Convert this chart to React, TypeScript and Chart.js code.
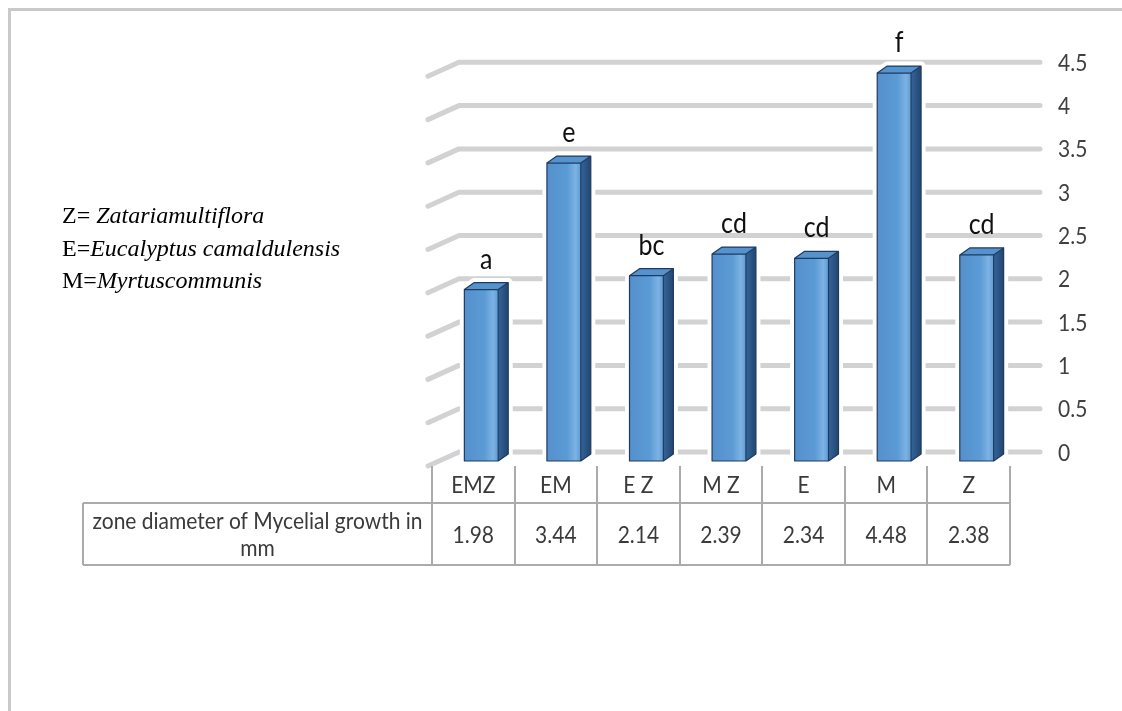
import React, { useEffect, useRef } from "react";
import { Chart, registerables } from "chart.js";

Chart.register(...registerables);

const categories = ["EMZ", "EM", "E Z", "M Z", "E", "M", "Z"];
const growthValues = [1.98, 3.44, 2.14, 2.39, 2.34, 4.48, 2.38];
const significanceLetters = ["a", "e", "bc", "cd", "cd", "f", "cd"];
const yTickValues = [0, 0.5, 1, 1.5, 2, 2.5, 3, 3.5, 4, 4.5];
const yTickLabels = ["0", "0.5", "1", "1.5", "2", "2.5", "3", "3.5", "4", "4.5"];
const valueLabels = ["1.98", "3.44", "2.14", "2.39", "2.34", "4.48", "2.38"];
const rowLabelLines = ["zone diameter of Mycelial growth in", "mm"];
const legendPrefixes = ["Z= ", "E=", "M="];
const legendNames = ["Zatariamultiflora", "Eucalyptus camaldulensis", "Myrtuscommunis"];

const W = 1122;
const H = 711;
const PLOT_LEFT = 432;
const PLOT_RIGHT = 1010;
const PLOT_TOP = 71.3;
const PLOT_BOTTOM = 461;

const SANS = "Lato, 'Open Sans', 'Liberation Sans', sans-serif";
const SERIF = "'Liberation Serif', 'DejaVu Serif', serif";

// draw text slightly stretched vertically (source chart uses tall, narrow glyphs)
function tallText(ctx: CanvasRenderingContext2D, text: string, x: number, y: number, sy: number) {
  ctx.save();
  ctx.translate(x, y);
  ctx.scale(1, sy);
  ctx.fillText(text, 0, 0);
  ctx.restore();
}

const depthPlugin = {
  id: "depth3d",
  afterDraw(chart: any) {
    const ctx: CanvasRenderingContext2D = chart.ctx;
    const xs = chart.scales.x;
    const ys = chart.scales.y;
    const area = chart.chartArea;
    const colW = (area.right - area.left) / categories.length;
    const DX = 10;
    const DY = -7;
    const SHIFT = 8;
    const WALL_DY = -9;
    const SY = 1.12;

    ctx.save();
    // outer frame (top + left)
    ctx.strokeStyle = "#c9c9c9";
    ctx.lineWidth = 3;
    ctx.beginPath();
    ctx.moveTo(9.5, H);
    ctx.lineTo(9.5, 9.5);
    ctx.lineTo(W, 9.5);
    ctx.stroke();

    // legend
    ctx.fillStyle = "#000";
    ctx.textBaseline = "middle";
    ctx.textAlign = "left";
    const legendY = [217, 250, 282];
    legendPrefixes.forEach((p, i) => {
      ctx.font = `24px ${SERIF}`;
      ctx.fillText(p, 62, legendY[i]);
      const w = ctx.measureText(p).width;
      ctx.font = `italic 24px ${SERIF}`;
      ctx.fillText(legendNames[i], 62 + w, legendY[i]);
    });

    // back-wall gridlines
    ctx.strokeStyle = "#d2d2d2";
    ctx.lineWidth = 5;
    ctx.lineCap = "round";
    ctx.lineJoin = "round";
    yTickValues.forEach((v) => {
      const yb = ys.getPixelForValue(v) + WALL_DY;
      ctx.beginPath();
      ctx.moveTo(area.left - 4, yb + 14);
      ctx.lineTo(area.left + 27, yb);
      ctx.lineTo(area.right + 30, yb);
      ctx.stroke();
    });

    // tick labels
    ctx.fillStyle = "#404040";
    ctx.font = `21px ${SANS}`;
    ctx.textAlign = "left";
    ctx.textBaseline = "middle";
    yTickValues.forEach((v, i) => {
      const yb = ys.getPixelForValue(v) + WALL_DY;
      tallText(ctx, yTickLabels[i], area.right + 48, yb + 1, SY);
    });

    // bars
    const meta = chart.getDatasetMeta(0);
    meta.data.forEach((el: any, i: number) => {
      const p = el.getProps(["x", "y", "base", "width"], true);
      const l = p.x - p.width / 2 + SHIFT;
      const r = p.x + p.width / 2 + SHIFT;
      const t = p.y;
      const b = p.base;
      // halo
      ctx.beginPath();
      ctx.moveTo(l, b);
      ctx.lineTo(l, t);
      ctx.lineTo(l + DX, t + DY);
      ctx.lineTo(r + DX, t + DY);
      ctx.lineTo(r + DX, b + DY);
      ctx.lineTo(r, b);
      ctx.closePath();
      ctx.fillStyle = "#fff";
      ctx.strokeStyle = "#fff";
      ctx.lineWidth = 9;
      ctx.fill();
      ctx.stroke();

      // front
      const g = ctx.createLinearGradient(l, 0, r, 0);
      g.addColorStop(0, "#5590cc");
      g.addColorStop(0.6, "#5b9bd5");
      g.addColorStop(0.85, "#7db2e3");
      g.addColorStop(1, "#5b9bd5");
      ctx.fillStyle = g;
      ctx.fillRect(l, t, r - l, b - t);
      // side
      const gs = ctx.createLinearGradient(r, 0, r + DX, 0);
      gs.addColorStop(0, "#35659a");
      gs.addColorStop(1, "#22466f");
      ctx.fillStyle = gs;
      ctx.beginPath();
      ctx.moveTo(r, t);
      ctx.lineTo(r + DX, t + DY);
      ctx.lineTo(r + DX, b + DY);
      ctx.lineTo(r, b);
      ctx.closePath();
      ctx.fill();
      // top
      ctx.fillStyle = "#5593cf";
      ctx.beginPath();
      ctx.moveTo(l, t);
      ctx.lineTo(l + DX, t + DY);
      ctx.lineTo(r + DX, t + DY);
      ctx.lineTo(r, t);
      ctx.closePath();
      ctx.fill();
      // outlines
      ctx.strokeStyle = "#1f3a5f";
      ctx.lineWidth = 1.2;
      ctx.beginPath();
      ctx.moveTo(l, b);
      ctx.lineTo(l, t);
      ctx.lineTo(l + DX, t + DY);
      ctx.lineTo(r + DX, t + DY);
      ctx.lineTo(r + DX, b + DY);
      ctx.lineTo(r, b);
      ctx.closePath();
      ctx.moveTo(l, t);
      ctx.lineTo(r, t);
      ctx.lineTo(r + DX, t + DY);
      ctx.moveTo(r, t);
      ctx.lineTo(r, b);
      ctx.stroke();

      // letter
      ctx.fillStyle = "#111";
      ctx.font = `25px ${SANS}`;
      ctx.textAlign = "center";
      ctx.textBaseline = "middle";
      tallText(ctx, significanceLetters[i], (l + r) / 2 + 5, t - 30, SY);
    });

    // data table
    const hdrTop = area.bottom + 5;
    const rowTop = area.bottom + 42;
    const rowBottom = area.bottom + 104;
    const tableLeft = 83;
    ctx.strokeStyle = "#ababab";
    ctx.lineWidth = 2;
    ctx.lineCap = "butt";
    ctx.beginPath();
    for (let i = 0; i <= categories.length; i++) {
      const bx = Math.round(area.left + i * colW);
      ctx.moveTo(bx, hdrTop);
      ctx.lineTo(bx, rowBottom);
    }
    ctx.moveTo(tableLeft, rowTop);
    ctx.lineTo(area.right, rowTop);
    ctx.moveTo(tableLeft, rowBottom);
    ctx.lineTo(area.right, rowBottom);
    ctx.moveTo(tableLeft, rowTop);
    ctx.lineTo(tableLeft, rowBottom);
    ctx.stroke();

    ctx.fillStyle = "#3a3a3a";
    ctx.font = `21px ${SANS}`;
    ctx.textAlign = "center";
    ctx.textBaseline = "middle";
    categories.forEach((c, i) => {
      const cx = xs.getPixelForValue(i);
      tallText(ctx, c, cx, (hdrTop + rowTop) / 2 + 1, SY);
      tallText(ctx, valueLabels[i], cx, (rowTop + rowBottom) / 2 + 1, SY);
    });
    const labelCx = (tableLeft + area.left) / 2;
    tallText(ctx, rowLabelLines[0], labelCx, rowTop + 18, SY);
    tallText(ctx, rowLabelLines[1], labelCx, rowTop + 45, SY);

    ctx.restore();
  },
};

export default function App() {
  const ref = useRef<HTMLCanvasElement | null>(null);
  useEffect(() => {
    if (!ref.current) return;
    const chart = new Chart(ref.current, {
      type: "bar",
      data: {
        labels: categories,
        datasets: [
          {
            label: "zone diameter of Mycelial growth in mm",
            data: growthValues,
            backgroundColor: "rgba(0,0,0,0)",
            borderWidth: 0,
            categoryPercentage: 1,
            barPercentage: 0.41,
          },
        ],
      },
      options: {
        responsive: false,
        animation: false,
        devicePixelRatio: 1,
        layout: {
          padding: {
            left: PLOT_LEFT,
            right: W - PLOT_RIGHT,
            top: PLOT_TOP,
            bottom: H - PLOT_BOTTOM,
          },
        },
        plugins: {
          legend: { display: false },
          tooltip: { enabled: false },
          title: { display: false },
        },
        scales: {
          x: { display: false, offset: true, grid: { display: false } },
          y: { display: false, min: 0, max: 4.5, grid: { display: false } },
        },
      },
      plugins: [depthPlugin],
    });
    return () => chart.destroy();
  }, []);
  return (
    <div style={{ position: "absolute", left: 0, top: 0, width: W, height: H, background: "#fff" }}>
      <canvas ref={ref} width={W} height={H} style={{ display: "block", width: W, height: H }} />
    </div>
  );
}
